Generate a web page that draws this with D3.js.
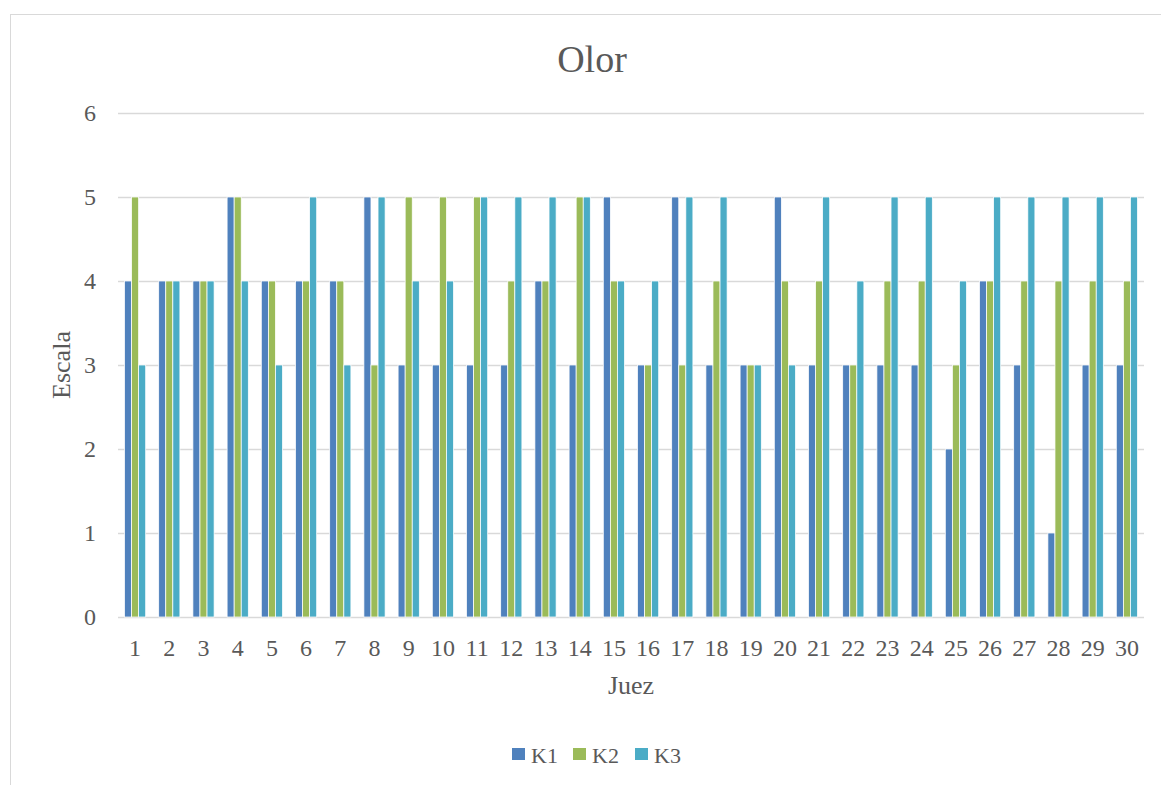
<!DOCTYPE html>
<html lang="es">
<head>
<meta charset="UTF-8">
<title>Olor</title>
<script src="https://d3js.org/d3.v7.min.js"></script>
<style>
  body { margin: 0; background: #fff; }
  text { font-family: "Liberation Serif", "DejaVu Serif", serif; fill: #595959; }
</style>
</head>
<body>
<svg id="chart"></svg>
<script>
    // data
    let jueces = d3.range(1, 31).map(String);
    let k1 = [4,4,4,5,4,4,4,5,3,3,3,3,4,3,5,3,5,3,3,5,3,3,3,3,2,4,3,1,3,3];
    let k2 = [5,4,4,5,4,4,4,3,5,5,5,4,4,5,4,3,3,4,3,4,4,3,4,4,3,4,4,4,4,4];
    let k3 = [3,4,4,4,3,5,3,5,4,4,5,5,5,5,4,4,5,5,3,3,5,4,5,5,4,5,5,5,5,5];
    let seriesNames = ["K1", "K2", "K3"];
    let yTicks = [0, 1, 2, 3, 4, 5, 6];

    let colour = ["#4F81BD", "#9BBB59", "#4BACC6"];
    let series = [k1, k2, k3];

    let width = 1161, height = 785;
    let plot = {left: 118, right: 1144, top: 113, bottom: 617};

    let svg = d3.select("#chart").attr("width", width).attr("height", height);

    // chart frame
    svg.append("rect")
        .attr("x", 10.5).attr("y", 14.5)
        .attr("width", 1160).attr("height", 790)
        .attr("fill", "#fff").attr("stroke", "#d9d9d9");

    let x = d3.scaleBand().domain(jueces).range([plot.left, plot.right]).paddingInner(0).paddingOuter(0);
    let y = d3.scaleLinear().domain([0, 6]).range([plot.bottom, plot.top]);

    let groupWidth = x.bandwidth() * 0.62;
    let xs = d3.scaleBand().domain(seriesNames).range([0, groupWidth]);

    // gridlines
    svg.append("g").selectAll("line")
        .data(yTicks)
        .enter().append("line")
        .attr("x1", plot.left).attr("x2", plot.right)
        .attr("y1", d => Math.round(y(d)) + 0.5).attr("y2", d => Math.round(y(d)) + 0.5)
        .attr("stroke", "#d9d9d9").attr("stroke-width", 1.5);

    // bars
    seriesNames.forEach(function (name, s) {
        svg.append("g").selectAll("rect")
            .data(series[s])
            .enter().append("rect")
            .attr("x", (d, i) => x(jueces[i]) + (x.bandwidth() - groupWidth) / 2 + xs(name))
            .attr("y", d => y(d))
            .attr("width", xs.bandwidth())
            .attr("height", d => y(0) - y(d))
            .attr("fill", colour[s])
            .attr("stroke", "#fff")
            .attr("stroke-width", 0.75);
    });

    // y axis labels
    svg.append("g").selectAll("text")
        .data(yTicks)
        .enter().append("text")
        .attr("x", 96)
        .attr("y", d => y(d))
        .attr("dy", "0.35em")
        .attr("text-anchor", "end")
        .attr("font-size", 24)
        .text(d => d);

    // x axis labels
    svg.append("g").selectAll("text")
        .data(jueces)
        .enter().append("text")
        .attr("x", d => x(d) + x.bandwidth() / 2)
        .attr("y", 656)
        .attr("text-anchor", "middle")
        .attr("font-size", 24)
        .text(d => d);

    // title & axis titles
    svg.append("text")
        .attr("x", 592).attr("y", 72)
        .attr("text-anchor", "middle")
        .attr("font-size", 38)
        .text("Olor");

    svg.append("text")
        .attr("x", (plot.left + plot.right) / 2).attr("y", 694)
        .attr("text-anchor", "middle")
        .attr("font-size", 26)
        .text("Juez");

    svg.append("text")
        .attr("transform", "translate(70," + (plot.top + plot.bottom) / 2 + ") rotate(-90)")
        .attr("text-anchor", "middle")
        .attr("font-size", 26)
        .text("Escala");

    // legend
    let legendX = [512, 573, 635];
    let legend = svg.append("g").selectAll("g")
        .data(seriesNames)
        .enter().append("g")
        .attr("transform", (d, i) => "translate(" + legendX[i] + ",748)");

    legend.append("rect")
        .attr("width", 13).attr("height", 12)
        .attr("fill", (d, i) => colour[i]);

    legend.append("text")
        .attr("x", 19).attr("y", 15)
        .attr("font-size", 22)
        .text(d => d);
</script>
</body>
</html>
